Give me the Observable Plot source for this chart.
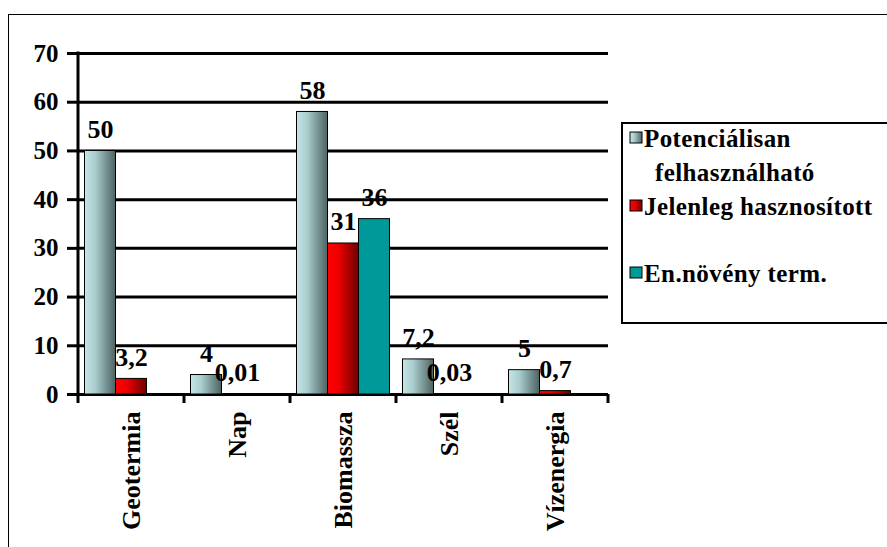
<!DOCTYPE html>
<html>
<head>
<meta charset="utf-8">
<script src="https://cdn.jsdelivr.net/npm/d3@7"></script>
<script src="https://cdn.jsdelivr.net/npm/@observablehq/plot@0.6"></script>
<style>
  body { margin: 0; background: #fff; }
  #wrap {
    position: relative; width: 887px; height: 547px; overflow: hidden; background: #fff;
    font-family: "Liberation Serif", "Times New Roman", serif; font-weight: bold;
  }
  #border { position: absolute; left: 8px; top: 14px; width: 950px; height: 650px; border: 1px solid #000; }
  #chart { position: absolute; left: 0; top: 0; }
  #legend { position: absolute; left: 621px; top: 122px; }
  svg text { font-weight: bold; }
</style>
</head>
<body>
<div id="wrap">
  <div id="border"></div>
  <svg width="0" height="0" style="position:absolute">
    <defs>
      <linearGradient id="gPot" x1="0" x2="1" y1="0" y2="0">
        <stop offset="0" stop-color="#c4e6e6"/>
        <stop offset="0.35" stop-color="#a9cccc"/>
        <stop offset="1" stop-color="#4c6262"/>
      </linearGradient>
      <linearGradient id="gJel" x1="0" x2="1" y1="0" y2="0">
        <stop offset="0" stop-color="#ff0000"/>
        <stop offset="0.35" stop-color="#ee0000"/>
        <stop offset="1" stop-color="#6e0000"/>
      </linearGradient>
    </defs>
  </svg>
  <div id="chart"></div>
  <div id="legend"></div>
</div>
<script>
// Megújuló energiaforrások (PJ/év)
const categories = ["Geotermia", "Nap", "Biomassza", "Szél", "Vízenergia"];
const seriesNames = ["Potenciálisan felhasználható", "Jelenleg hasznosított", "En.növény term."];
const legendLines = [["Potenciálisan", "felhasználható"], ["Jelenleg hasznosított"], ["En.növény term."]];
const potencialis = [50, 4, 58, 7.2, 5];
const jelenleg = [3.2, 0.01, 31, 0.03, 0.7];
const energianoveny = [null, null, 36, null, null];
const yTicks = [0, 10, 20, 30, 40, 50, 60, 70];
const seriesFills = ["url(#gPot)", "url(#gJel)", "#009999"];

const seriesValues = [potencialis, jelenleg, energianoveny];
const rows = [];
categories.forEach((c, i) => {
  seriesNames.forEach((s, j) => {
    const v = seriesValues[j][i];
    if (v != null) rows.push({category: c, series: s, value: v});
  });
});
const fmt = v => String(v).replace(".", ",");
const font = "Liberation Serif, Times New Roman, serif";

const chart = Plot.plot({
  width: 887,
  height: 547,
  marginLeft: 76.5,
  marginRight: 277,
  marginTop: 53,
  marginBottom: 153,
  style: {fontFamily: font, fontSize: "26px", fontWeight: "bold", color: "#000", background: "transparent", overflow: "visible"},
  fx: {domain: categories, padding: 0, label: null, axis: null},
  x: {domain: seriesNames, paddingInner: 0, paddingOuter: 0.2, axis: null},
  y: {domain: [0, 70], axis: null},
  color: {type: "ordinal", domain: seriesNames, range: seriesFills},
  marks: [
    Plot.gridY(yTicks, {stroke: "#000", strokeOpacity: 1, strokeWidth: 3}),
    Plot.axisY(yTicks, {tickSize: 11, tickPadding: 9, stroke: "#000", strokeWidth: 3, label: null, fontSize: 25, fontWeight: "bold"}),
    Plot.barY(rows, {fx: "category", x: "series", y: "value", fill: "series", stroke: "#000", strokeWidth: 1}),
    Plot.text(rows, {fx: "category", x: "series", y: "value", text: d => fmt(d.value), lineAnchor: "bottom", dy: -13, fontSize: 26, fontWeight: "bold", fill: "#000"}),
    Plot.axisFx({anchor: "bottom", tickSize: 0, tickPadding: 17, tickRotate: -90, label: null, fontSize: 26, fontWeight: "bold"})
  ]
});
document.getElementById("chart").append(chart);

// Y axis line and category boundary ticks, positioned with the chart's own scales
const fxS = chart.scale("fx"), yS = chart.scale("y");
const svg = d3.select(chart);
const g = svg.append("g").attr("stroke", "#000").attr("stroke-width", 3);
const y0 = yS.apply(0), yTop = yS.apply(70);
const left = fxS.apply(categories[0]);
g.append("line").attr("x1", left).attr("x2", left).attr("y1", yTop - 1.5).attr("y2", y0 + 9);
const edges = categories.map(c => fxS.apply(c) + fxS.bandwidth);
g.selectAll("line.edge").data(edges).join("line").attr("class", "edge")
  .attr("x1", d => d).attr("x2", d => d).attr("y1", y0).attr("y2", y0 + 9);

// Legend
const lg = d3.select("#legend").append("svg").attr("width", 266).attr("height", 202);
lg.append("rect").attr("x", 1).attr("y", 1).attr("width", 270).attr("height", 200)
  .attr("fill", "#fff").attr("stroke", "#000").attr("stroke-width", 2);
const rowTop = [25, 93, 160];
seriesNames.forEach((s, j) => {
  lg.append("rect").attr("x", 9).attr("y", rowTop[j] - 15).attr("width", 12).attr("height", 11)
    .attr("fill", seriesFills[j]).attr("stroke", "#000").attr("stroke-width", 1);
  legendLines[j].forEach((t, k) => {
    lg.append("text").attr("x", k === 0 ? 23 : 34).attr("y", rowTop[j] + k * 34)
      .attr("font-family", font).attr("font-weight", "bold").attr("font-size", 25)
      .attr("letter-spacing", 0.4).text(t);
  });
});
</script>
</body>
</html>
